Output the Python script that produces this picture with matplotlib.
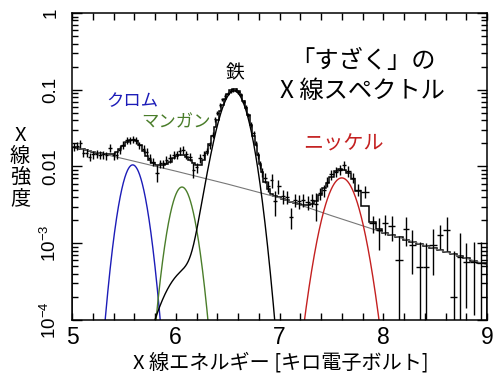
import numpy as np
import matplotlib

matplotlib.use("Agg")
import matplotlib.pyplot as plt
from matplotlib.ticker import MultipleLocator, LogLocator, FixedLocator, NullFormatter

plt.rcParams["font.family"] = ["Liberation Sans", "Noto Sans CJK JP"]
plt.rcParams["mathtext.fontset"] = "custom"
plt.rcParams["mathtext.rm"] = "Liberation Sans"
plt.rcParams["mathtext.it"] = "Liberation Sans"
JP = ["Noto Sans CJK JP", "Liberation Sans"]

# observed spectrum (bin centre in keV, intensity, relative error)
energy = [
    5.02, 5.05, 5.08, 5.11, 5.14, 5.17, 5.20, 5.24, 5.27, 5.30, 5.33, 5.37, 5.40, 5.43,
    5.46, 5.49, 5.53, 5.56, 5.59, 5.62, 5.65, 5.69, 5.72, 5.75, 5.78, 5.82, 5.85, 5.88,
    5.91, 5.94, 5.98, 6.01, 6.04, 6.07, 6.10, 6.14, 6.17, 6.20, 6.23, 6.27, 6.30, 6.33,
    6.355, 6.38, 6.40, 6.43, 6.45, 6.475, 6.50, 6.53, 6.55, 6.58, 6.60, 6.63, 6.655, 6.68,
    6.70, 6.725, 6.75, 6.77, 6.79, 6.81, 6.83, 6.86, 6.89,
    6.925, 6.957, 6.99, 7.03, 7.07, 7.11, 7.15, 7.19, 7.23, 7.27, 7.31, 7.35, 7.39, 7.43,
    7.46, 7.50, 7.545, 7.585, 7.625, 7.665, 7.705, 7.76, 7.82,
    7.90, 7.96, 8.02, 8.08, 8.155, 8.22, 8.28, 8.35, 8.41, 8.48, 8.55, 8.61, 8.68, 8.74,
    8.80, 8.87, 8.94,
]
intensity = [
    0.0180, 0.0187, 0.0200, 0.0149, 0.0152, 0.0134, 0.0144, 0.0146, 0.0141, 0.0144, 0.0140, 0.0176, 0.0140, 0.0142,
    0.0164, 0.0190, 0.0221, 0.0221, 0.0228, 0.0221, 0.0190, 0.0169, 0.0156, 0.0128, 0.0116, 0.0083, 0.0110, 0.0110,
    0.0122, 0.0128, 0.0141, 0.0144, 0.0159, 0.0165, 0.0144, 0.0134, 0.0090, 0.0098, 0.0128, 0.0141, 0.0158, 0.0190,
    0.0257, 0.041, 0.050, 0.063, 0.075, 0.083, 0.089, 0.096, 0.099, 0.099, 0.094, 0.086, 0.070, 0.060,
    0.047, 0.035, 0.027, 0.020, 0.0141, 0.0105, 0.0085, 0.0071, 0.0055,
    0.0066, 0.0035, 0.0055, 0.0041, 0.0040, 0.0022, 0.0037, 0.0035, 0.0037, 0.0034, 0.0037, 0.0032, 0.0045, 0.0049,
    0.0063, 0.0079, 0.0085, 0.0091, 0.0105, 0.0087, 0.0071, 0.0050, 0.0047,
    0.00182, 0.00148, 0.00182, 0.00166, 0.00060, 0.00155, 0.00095, 0.00049, 0.00049, 0.00095, 0.00129, 0.00148, 0.00020, 0.00066,
    0.000575, 0.000575, 0.00055,
]
rel_err = [
    0.12, 0.12, 0.12, 0.12, 0.12, 0.12, 0.12, 0.12, 0.12, 0.12, 0.12, 0.12, 0.12, 0.12,
    0.12, 0.12, 0.10, 0.10, 0.10, 0.10, 0.10, 0.12, 0.12, 0.12, 0.12, 0.25, 0.12, 0.12,
    0.12, 0.12, 0.12, 0.12, 0.12, 0.12, 0.12, 0.12, 0.22, 0.15, 0.12, 0.12, 0.10, 0.10,
    0.08, 0.07, 0.07, 0.06, 0.05, 0.05, 0.05, 0.05, 0.05, 0.05, 0.05, 0.05, 0.05, 0.06,
    0.06, 0.07, 0.07, 0.08, 0.10, 0.12, 0.14, 0.15, 0.16,
    0.20, 0.35, 0.20, 0.20, 0.20, 0.30, 0.20, 0.20, 0.20, 0.20, 0.20, 0.40, 0.18, 0.18,
    0.15, 0.15, 0.15, 0.14, 0.14, 0.15, 0.15, 0.18, 0.18,
    0.25, 0.45, 0.30, 0.35, 1.10, 0.40, 0.58, 1.15, 1.05, 0.60, 0.35, 0.47, 3.00, 1.05,
    0.75, 0.80, 0.90,
]

# continuum level
cont_energy = [5.0, 5.5, 6.0, 6.5, 7.0, 7.5, 8.0, 8.5, 9.0]
cont_level = [0.0181, 0.0126, 0.0087, 0.0059, 0.0039, 0.00229, 0.00138, 0.000851, 0.000525]

# emission lines: centre (keV), width (keV), peak intensity
lines = {
    "cr": ([5.585], [0.087], [0.0105]),
    "mn": ([6.06], [0.0886], [0.0054]),
    "fe": ([6.565, 6.40, 6.12], [0.105, 0.10, 0.185], [0.095, 0.006, 0.00045]),
    "ni": ([7.60], [0.123], [0.0071]),
}
line_colors = {"cr": "#1c1cb8", "mn": "#4a7d2a", "fe": "black", "ni": "#c42020"}
line_labels = {"cr": "クロム", "mn": "マンガン", "fe": "鉄", "ni": "ニッケル"}


def continuum(e):
    return 10 ** np.interp(e, cont_energy, np.log10(cont_level))


def line_profile(e, key):
    centres, widths, peaks = lines[key]
    out = np.zeros_like(e)
    for c, s, p in zip(centres, widths, peaks):
        out += p * np.exp(-0.5 * ((e - c) / s) ** 2)
    return out


e_bin = np.asarray(energy)
y_bin = np.asarray(intensity)
err = y_bin * np.asarray(rel_err)
edges = np.concatenate([[5.0], (e_bin[1:] + e_bin[:-1]) / 2, [9.0]])

model = continuum(e_bin) + sum(line_profile(e_bin, k) for k in lines)

fig = plt.figure(figsize=(5, 3.79), dpi=100)
ax = fig.add_axes([0.144, 0.1557, 0.83, 0.81])
ax.set_yscale("log")
ax.set_xlim(5, 9)
ax.set_ylim(1e-4, 1)

e_fine = np.linspace(5, 9, 1601)
ax.plot(cont_energy, cont_level, color="#777777", lw=0.8)
for key in lines:
    prof = line_profile(e_fine, key)
    prof = np.where(prof > 1e-6, prof, np.nan)
    ax.plot(e_fine, prof, color=line_colors[key], lw=1.0)

ax.stairs(model, edges, color="black", lw=1.1)

lo = np.maximum(y_bin - err, 1e-6)
hi = y_bin + err
ax.vlines(e_bin, lo, hi, color="black", lw=1.0)
ax.hlines(y_bin, edges[:-1], edges[1:], color="black", lw=1.0)

ax.text(5.585, 0.072, line_labels["cr"], color=line_colors["cr"], fontsize=12.5,
        ha="center", va="center", family=JP)
ax.text(6.0, 0.037, line_labels["mn"], color=line_colors["mn"], fontsize=12.5,
        ha="center", va="center", family=JP)
ax.text(6.57, 0.165, line_labels["fe"], color=line_colors["fe"], fontsize=13.5,
        ha="center", va="center", family=JP)
ax.text(7.62, 0.0195, line_labels["ni"], color=line_colors["ni"], fontsize=14.5,
        ha="center", va="center", family=JP)
ax.text(7.8, 0.15, "「すざく」の\nX 線スペクトル", fontsize=17.5, ha="center", va="center",
        linespacing=1.2, family=JP)

ax.set_xticks([5, 6, 7, 8, 9])
ax.xaxis.set_minor_locator(MultipleLocator(0.2))
ax.yaxis.set_major_locator(FixedLocator([1e-4, 1e-3, 1e-2, 1e-1, 1]))
ax.set_yticklabels([r"$10^{-4}$", r"$10^{-3}$", "0.01", "0.1", "1"])
ax.yaxis.set_minor_locator(LogLocator(base=10, subs=np.arange(2, 10)))
ax.yaxis.set_minor_formatter(NullFormatter())
ax.tick_params(which="both", direction="in", top=True, right=True, width=1.0)
ax.tick_params(axis="x", which="both", length=5, labelsize=16.5, pad=4)
ax.tick_params(axis="y", which="major", length=7, labelsize=13.5, pad=9)
ax.tick_params(axis="y", which="minor", length=4)
for lbl in ax.get_yticklabels():
    lbl.set_rotation(90)
    lbl.set_va("center")
for sp in ax.spines.values():
    sp.set_linewidth(1.1)

fig.text(0.04, 0.56, "X\n線\n強\n度", fontsize=14.5, ha="center", va="center",
         linespacing=1.0, family=JP)
fig.text(0.562, 0.042, "X 線エネルギー [キロ電子ボルト]", fontsize=14.5, ha="center", va="center",
         family=JP)

fig.savefig("out.png", dpi=100)
